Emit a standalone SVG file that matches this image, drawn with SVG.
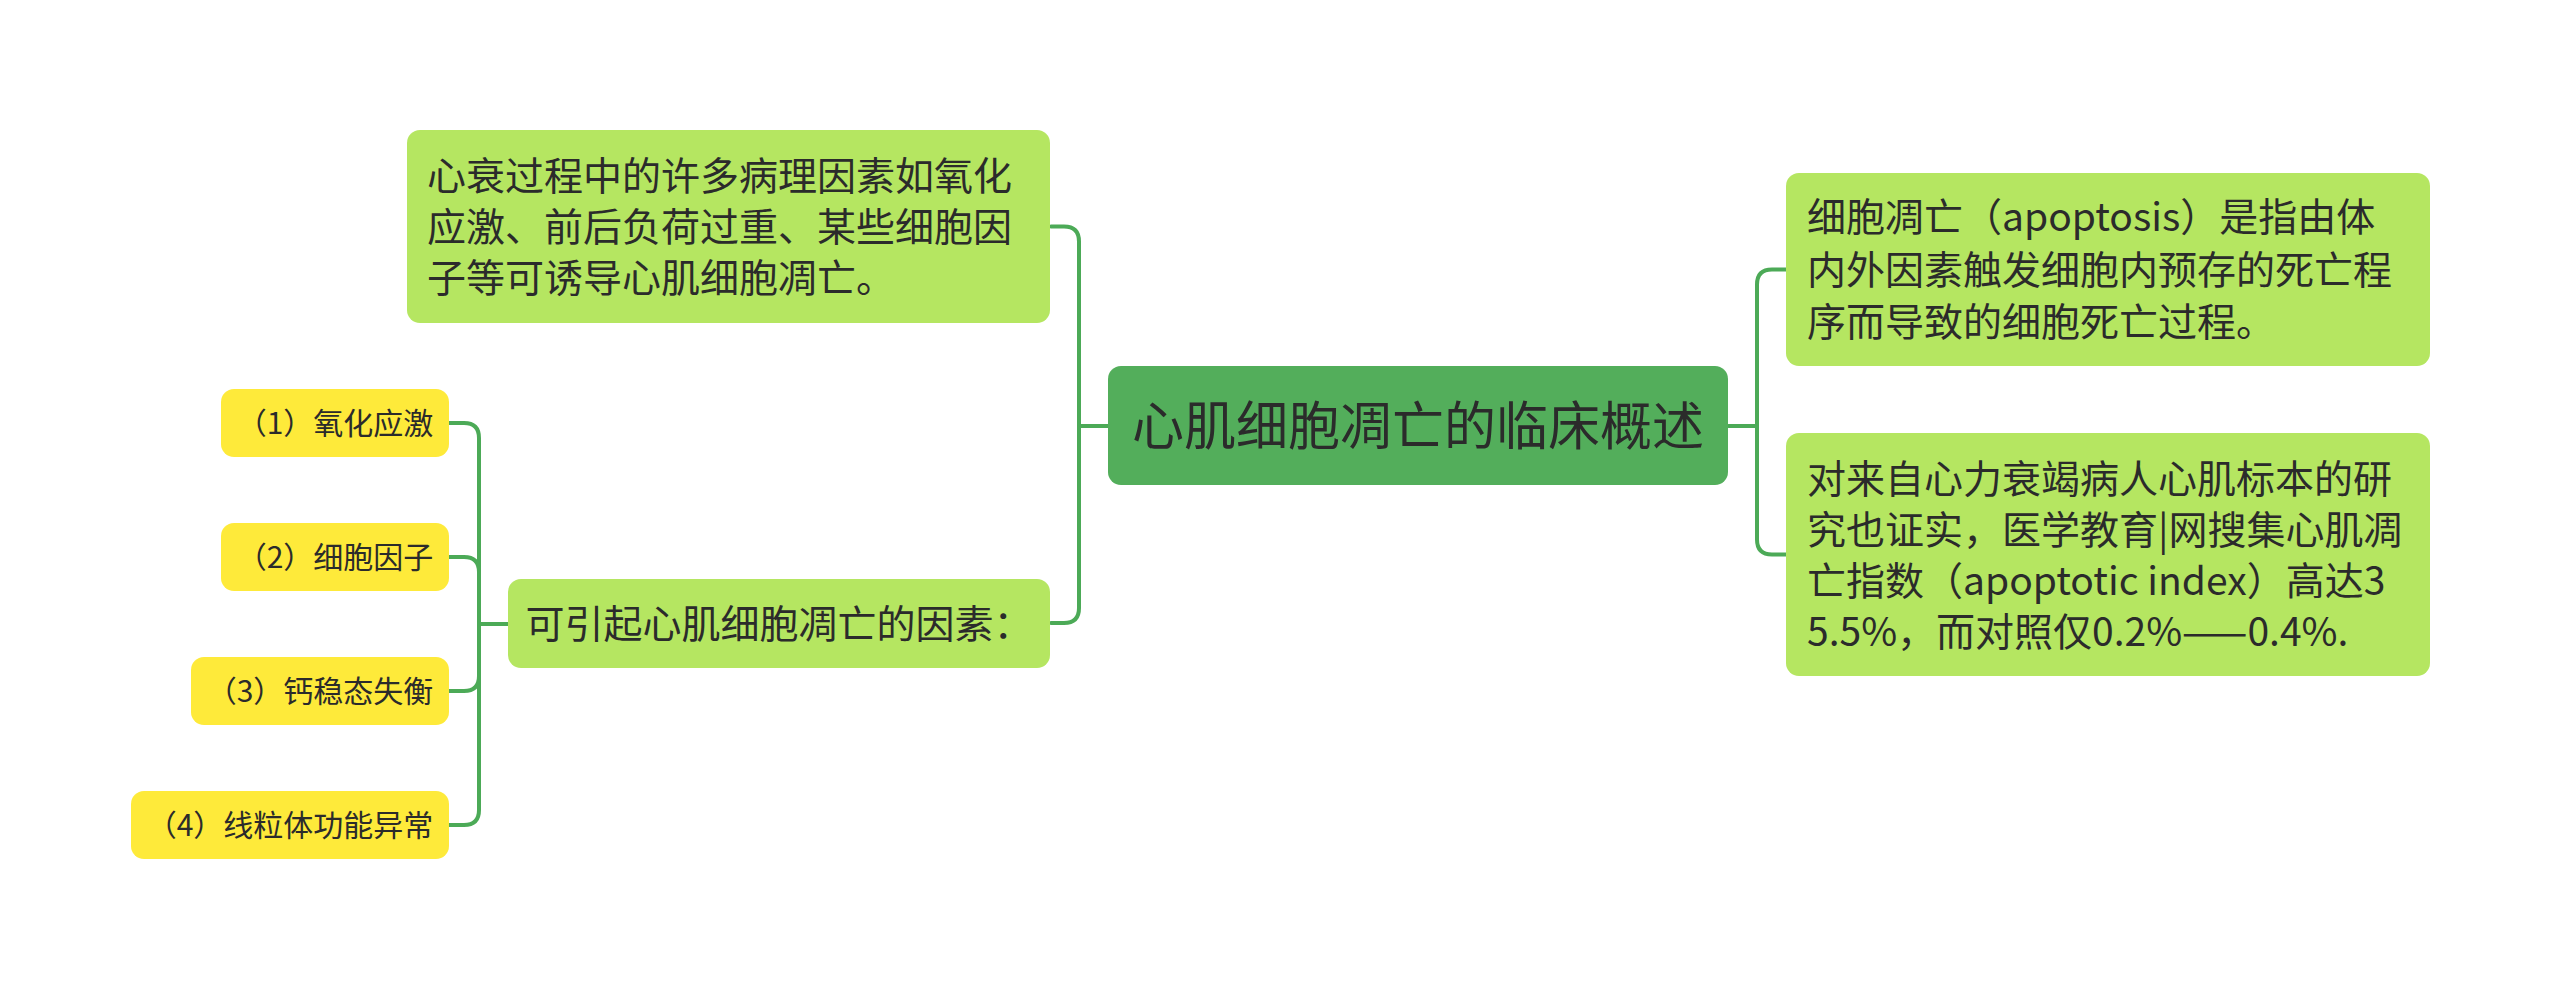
<svg xmlns="http://www.w3.org/2000/svg" width="2560" height="990" viewBox="0 0 2560 990">
<style>
.t{font-family:"Noto Sans CJK SC","Noto Sans",sans-serif;fill:#2b2b2b}
.main{fill:#53ae5b}
.sub{fill:#b5e661}
.leaf{fill:#feea3a}
.c{fill:none;stroke:#4caa57;stroke-width:4;stroke-linecap:round}
</style>
<rect width="2560" height="990" fill="#ffffff"/>
<g id="connectors">
<path class="c" d="M1108,426 H1079 V241.5 Q1079,226.5 1064,226.5 H1051"/>
<path class="c" d="M1108,426 H1079 V608 Q1079,623 1064,623 H1051"/>
<path class="c" d="M1729,426 H1757 V284.5 Q1757,269.5 1772,269.5 H1786"/>
<path class="c" d="M1729,426 H1757 V539.5 Q1757,554.5 1772,554.5 H1786"/>
<path class="c" d="M507,624 H479 V438 Q479,423 464,423 H449"/>
<path class="c" d="M507,624 H479 V572 Q479,557 464,557 H449"/>
<path class="c" d="M507,624 H479 V676 Q479,691 464,691 H449"/>
<path class="c" d="M507,624 H479 V810 Q479,825 464,825 H449"/>
</g>
<g id="central">
<rect class="main" x="1108" y="366" width="620" height="119" rx="13"/>
<text class="t" x="1418" y="445" font-size="52" text-anchor="middle">心肌细胞凋亡的临床概述</text>
</g>
<g id="node-left-top">
<rect class="sub" x="407" y="130" width="643" height="193" rx="13"/>
<text class="t" font-size="39"><tspan x="427" y="190">心衰过程中的许多病理因素如氧化</tspan><tspan x="427" y="241">应激、前后负荷过重、某些细胞因</tspan><tspan x="427" y="292">子等可诱导心肌细胞凋亡。</tspan></text>
</g>
<g id="node-factors">
<rect class="sub" x="508" y="579" width="542" height="89" rx="13"/>
<text class="t" x="779" y="638" font-size="39" text-anchor="middle">可引起心肌细胞凋亡的因素：</text>
</g>
<g id="node-right-1">
<rect class="sub" x="1786" y="173" width="644" height="193" rx="13"/>
<text class="t" font-size="39"><tspan x="1807" y="231">细胞凋亡（apoptosis）是指由体</tspan><tspan x="1807" y="284">内外因素触发细胞内预存的死亡程</tspan><tspan x="1807" y="336">序而导致的细胞死亡过程。</tspan></text>
</g>
<g id="node-right-2">
<rect class="sub" x="1786" y="433" width="644" height="243" rx="13"/>
<text class="t" font-size="39"><tspan x="1807" y="493">对来自心力衰竭病人心肌标本的研</tspan><tspan x="1807" y="544">究也证实，医学教育|网搜集心肌凋</tspan><tspan x="1807" y="595">亡指数（apoptotic index）高达3</tspan><tspan x="1807" y="646">5.5%，而对照仅0.2%——0.4%.</tspan></text>
</g>
<g id="leaf-1">
<rect class="leaf" x="221" y="389" width="228" height="68" rx="13"/>
<text class="t" x="335" y="434" font-size="30" text-anchor="middle">（1）氧化应激</text>
</g>
<g id="leaf-2">
<rect class="leaf" x="221" y="523" width="228" height="68" rx="13"/>
<text class="t" x="335" y="568" font-size="30" text-anchor="middle">（2）细胞因子</text>
</g>
<g id="leaf-3">
<rect class="leaf" x="191" y="657" width="258" height="68" rx="13"/>
<text class="t" x="320" y="702" font-size="30" text-anchor="middle">（3）钙稳态失衡</text>
</g>
<g id="leaf-4">
<rect class="leaf" x="131" y="791" width="318" height="68" rx="13"/>
<text class="t" x="290" y="836" font-size="30" text-anchor="middle">（4）线粒体功能异常</text>
</g>
</svg>
